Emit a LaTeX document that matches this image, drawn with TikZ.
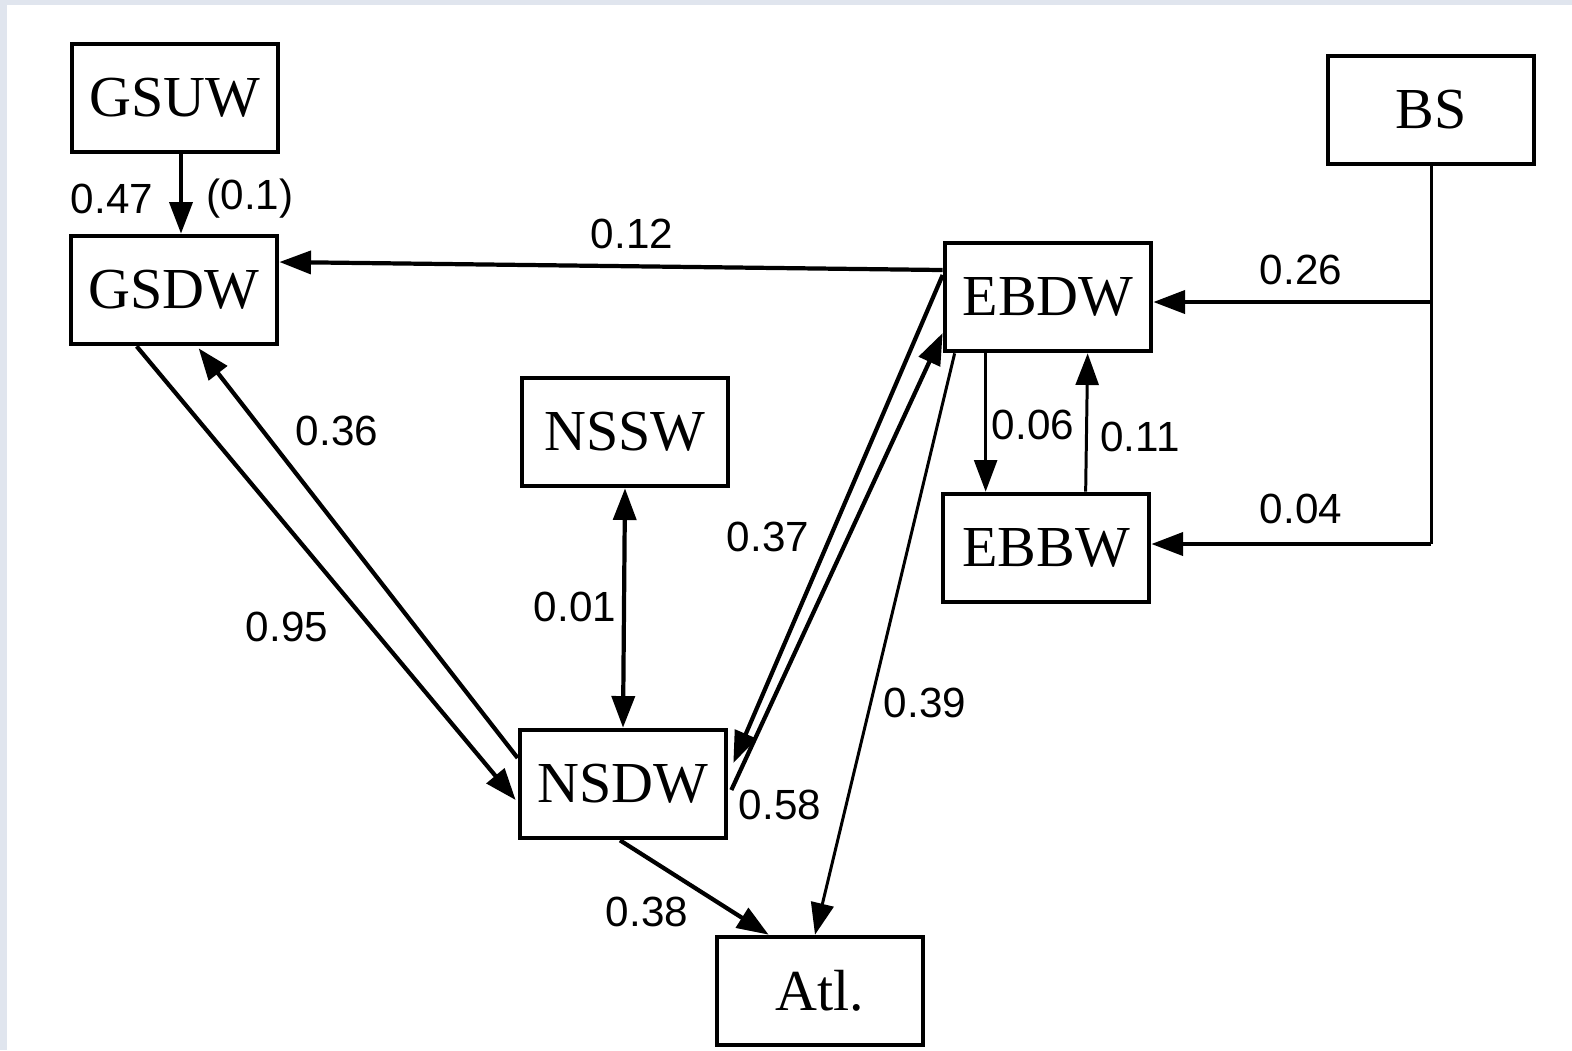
\documentclass[tikz,border=0pt]{standalone}
\usepackage{fontspec}
\setmainfont{Liberation Serif}
\newfontfamily\lblfont{Liberation Sans}
\usetikzlibrary{arrows.meta,calc}
\definecolor{edgetint}{RGB}{224,229,238}
\tikzset{
  boxnode/.style={draw, line width=1.3pt, minimum width=2.06cm, minimum height=1.08cm,
    inner sep=0pt, font=\fontsize{16.5}{18}\selectfont},
  lbl/.style={inner sep=0pt, font=\lblfont\fontsize{12}{14}\selectfont},
  arr/.style={line width=1.2pt, -{Triangle[length=9pt,width=6.5pt]}},
  arrthin/.style={line width=0.85pt, -{Triangle[length=9pt,width=6.5pt]}},
  biarr/.style={line width=1.2pt, {Triangle[length=9pt,width=6.5pt]}-{Triangle[length=9pt,width=6.5pt]}},
  plain/.style={line width=0.85pt}
}
\begin{document}
\begin{tikzpicture}[x=0.01cm,y=-0.01cm]
\useasboundingbox (0,0) rectangle (1572,1050);
\fill[white] (0,0) rectangle (1572,1050);
\fill[edgetint] (0,0) rectangle (1572,5);
\fill[edgetint] (0,0) rectangle (7,1050);

% boxes
\node[boxnode] (GSUW) at (175,98) {GSUW};
\node[boxnode] (GSDW) at (174,290) {GSDW};
\node[boxnode] (NSSW) at (625,432) {NSSW};
\node[boxnode] (NSDW) at (623,784) {NSDW};
\node[boxnode] (EBDW) at (1048,297) {EBDW};
\node[boxnode] (EBBW) at (1046,548) {EBBW};
\node[boxnode] (BS) at (1431,110) {BS};
\node[boxnode] (Atl) at (820,991) {Atl.};

% connectors
\draw[arr] ($(GSUW.south)+(6,0)$) -- ($(GSDW.north)+(7,0)$);
\draw[arr] ($(EBDW.west)+(0,-27)$) -- ($(GSDW.east)+(0,-28)$);
\draw[arr] ($(GSDW.south west)+(68,0)$) -- ($(NSDW.west)+(-2,16)$);
\draw[arr] ($(NSDW.west)+(0,-26)$) -- ($(GSDW.south west)+(130,2)$);
\draw[biarr] (NSSW.south) -- (NSDW.north);
\draw[arr] ($(EBDW.west)+(0,-22)$) -- ($(NSDW.east)+(5,-21)$);
\draw[arr] ($(NSDW.east)+(3,6)$) -- ($(EBDW.west)+(0,36)$);
\draw[arrthin] ($(EBDW.south west)+(12,0)$) -- ($(Atl.north)+(-5,0)$);
\draw[arr] ($(NSDW.south)+(-3,0)$) -- ($(Atl.north west)+(54,0)$);
\draw[arrthin] ($(EBDW.south west)+(43,0)$) -- ($(EBBW.north west)+(45,0)$);
\draw[arrthin] ($(EBBW.north west)+(145,0)$) -- ($(EBDW.south west)+(145,0)$);
\coordinate (j1) at ($(BS.south |- EBDW.east)+(0,5)$);
\coordinate (j2) at ($(BS.south |- EBBW.east)+(0,-4)$);
\draw[plain] (BS.south) -- (j2);
\draw[arr] (j1) -- (EBDW.east |- j1);
\draw[arr] (j2) -- (EBBW.east |- j2);

% labels
\node[lbl] (l047) at (112,199) {0.47};
\node[lbl] (l01) at (250,199) {(0.1)};
\node[lbl] (l012) at (632,234) {0.12};
\node[lbl] (l036) at (337,431) {0.36};
\node[lbl] (l095) at (287,627) {0.95};
\node[lbl] (l001) at (575,607) {0.01};
\node[lbl] (l037) at (768,537) {0.37};
\node[lbl] (l058) at (780,805) {0.58};
\node[lbl] (l039) at (925,703) {0.39};
\node[lbl] (l038) at (647,912) {0.38};
\node[lbl] (l006) at (1033,425) {0.06};
\node[lbl] (l011) at (1140,437) {0.11};
\node[lbl] (l026) at (1301,270) {0.26};
\node[lbl] (l004) at (1301,509) {0.04};
\end{tikzpicture}
\end{document}
